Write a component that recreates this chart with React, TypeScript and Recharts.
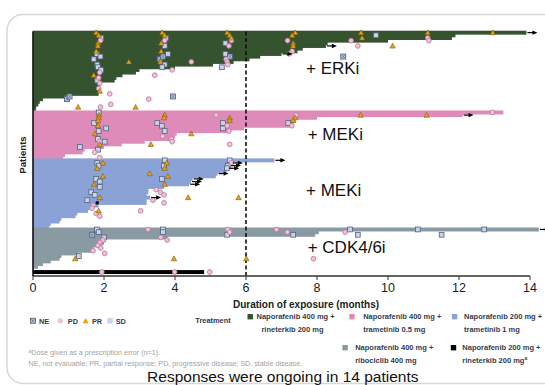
import React from 'react';
import { ComposedChart, Bar, Cell, XAxis, YAxis, Scatter, ReferenceLine } from 'recharts';

const FONT = '"Liberation Sans", Arial, Helvetica, sans-serif';

// ---- treatment groups ----
const groupLabels = [
  ['Naporafenib 400 mg +', 'rineterkib 200 mg'],
  ['Naporafenib 400 mg +', 'trametinib 0.5 mg'],
  ['Naporafenib 200 mg +', 'trametinib 1 mg'],
  ['Naporafenib 400 mg +', 'ribociclib 400 mg'],
  ['Naporafenib 200 mg +', 'rineterkib 200 mg'],
];
const groupColors = ['#35532e', '#df8bb9', '#8aa2d6', '#8a9aa3', '#000000'];
const groupStart = [0, 30, 48, 74, 90];
const TOTAL_ROWS = 92;

// ---- duration of exposure (months), one value per patient, top to bottom ----
const greenDur = [13.9, 11.9, 11.8, 10.0, 8.3, 8.25, 7.6, 7.45, 7.0, 6.4, 6.1, 5.65, 5.07, 4.0, 3.0, 2.9, 2.52, 2.35, 2.3, 1.9, 1.88, 1.88, 1.87, 1.85, 0.89, 0.28, 0.19, 0.15, 0.09, 0.08];
const pinkDur = [13.25, 12.1, 8.0, 7.4, 7.35, 7.3, 5.95, 5.5, 4.05, 4.0, 3.95, 3.15, 2.5, 2.0, 1.45, 1.4, 0.9, 0.85];
const blueDur = [6.8, 5.6, 5.55, 5.5, 5.45, 5.2, 5.15, 4.5, 4.45, 4.4, 3.7, 3.25, 3.25, 3.2, 3.3, 3.2, 3.2, 1.85, 1.6, 1.55, 1.25, 1.2, 0.8, 0.75, 0.5, 0.45];
const grayDur = [14.25, 8.05, 7.95, 3.8, 2.05, 2.0, 1.95, 1.7, 1.65, 1.25, 0.8, 0.75, 0.5, 0.28, 0.14];
const blackDur = [4.82];
const groupDurations = [greenDur, pinkDur, blueDur, grayDur, blackDur];

// ---- ongoing (arrow) [group, row] ----
const ongoingRows = [[0, 0], [0, 5], [0, 8], [1, 1], [2, 0], [2, 1], [2, 2], [2, 3], [2, 5], [2, 7], [2, 8], [2, 9], [2, 14], [3, 0]];

// ---- response assessments [group, row, month] ----
const neMarks = [[0, 25, 0.96], [0, 24, 1.03], [0, 24, 3.94], [0, 9, 8.74], [0, 10, 3.57], [0, 9, 3.66], [0, 9, 5.55], [3, 2, 1.67]];
const prMarks = [
  [0, 0, 1.78], [0, 1, 1.85], [0, 4, 1.83], [0, 5, 1.83], [0, 7, 1.78], [0, 16, 1.71], [0, 22, 1.88], [0, 11, 2.7], [0, 28, 1.27], [0, 28, 2.89],
  [0, 0, 3.64], [0, 1, 3.71], [0, 4, 3.61], [0, 7, 3.61], [0, 11, 3.59],
  [0, 0, 5.47], [0, 1, 5.54], [0, 2, 5.59],
  [0, 0, 7.39], [0, 1, 7.3], [0, 4, 7.33], [0, 5, 7.33], [0, 0, 9.24], [0, 2, 9.27], [0, 5, 10.13], [0, 0, 11.12], [0, 0, 12.95],
  [1, 1, 1.86], [1, 2, 1.85], [1, 3, 1.83], [1, 5, 1.83], [1, 8, 1.74], [1, 12, 1.88], [1, 1, 3.71], [1, 2, 3.69], [1, 8, 4.46], [1, 12, 3.32],
  [1, 2, 5.54], [1, 3, 5.54], [1, 2, 7.38], [1, 3, 7.33], [1, 1, 9.23], [1, 1, 11.09],
  [2, 1, 1.97], [2, 3, 1.81], [2, 6, 1.97], [2, 9, 1.72], [2, 14, 1.88], [2, 19, 1.85], [2, 1, 3.77], [2, 3, 3.71], [2, 5, 3.29], [2, 6, 3.8],
  [2, 9, 3.71], [2, 14, 4.37], [2, 14, 5.79],
  [3, 11, 1.19], [3, 11, 3.97], [3, 11, 6.01],
];
const sdMarks = [
  [0, 2, 1.92], [0, 8, 1.8], [0, 9, 1.9], [0, 10, 1.71], [0, 12, 1.81], [0, 13, 1.83], [0, 14, 1.92], [0, 18, 1.81],
  [0, 2, 3.75], [0, 5, 3.71], [0, 8, 3.8], [0, 12, 3.71], [0, 13, 3.64],
  [0, 4, 5.42], [0, 8, 5.42], [0, 13, 5.32], [0, 1, 9.66],
  [1, 0, 1.85], [1, 4, 1.72], [1, 6, 2.06], [1, 7, 1.85], [1, 10, 1.83], [1, 11, 2.02], [1, 14, 1.83], [1, 13, 1.32], [1, 4, 3.5], [1, 5, 3.63],
  [1, 7, 3.71], [1, 4, 5.35], [1, 6, 5.35], [1, 4, 7.19],
  [2, 1, 1.81], [2, 2, 1.85], [2, 7, 1.78], [2, 8, 1.88], [2, 10, 1.88], [2, 12, 1.64], [2, 13, 1.74], [2, 15, 1.53], [2, 0, 3.71], [2, 2, 3.69],
  [2, 7, 3.63], [2, 0, 5.54], [2, 2, 5.49], [2, 3, 5.46],
  [3, 0, 1.8], [3, 1, 1.85], [3, 3, 2.0], [3, 10, 1.29], [3, 0, 3.66], [3, 1, 3.66], [3, 2, 5.47], [3, 2, 7.33], [3, 0, 8.93], [3, 2, 9.15],
  [3, 0, 10.84], [3, 2, 11.51], [3, 0, 12.71],
];
const pdMarks = [
  [0, 3, 1.9], [0, 15, 1.88], [0, 17, 1.85], [0, 19, 1.88], [0, 21, 1.85], [0, 3, 3.71], [0, 14, 3.92], [0, 11, 4.46], [0, 16, 3.43],
  [0, 3, 5.59], [0, 5, 5.52], [0, 10, 5.44], [0, 11, 5.47], [0, 12, 5.49],
  [0, 3, 7.17], [0, 7, 7.3], [0, 8, 7.22], [0, 3, 8.96], [0, 5, 9.15], [0, 2, 11.12], [0, 3, 11.15],
  [0, 23, 2.16], [0, 27, 2.19], [0, 28, 1.9], [0, 25, 3.26],
  [1, 11, 1.88], [1, 15, 1.74], [1, 17, 1.88], [1, 9, 3.65], [1, 10, 3.9], [1, 11, 3.92], [1, 1, 5.16], [1, 5, 5.47], [1, 7, 5.52], [1, 12, 5.54],
  [1, 1, 7.41], [1, 5, 7.29], [1, 0, 12.94],
  [2, 17, 1.69], [2, 18, 1.66], [2, 20, 1.78], [2, 21, 1.88], [2, 11, 3.47], [2, 12, 3.59], [2, 13, 3.69], [2, 15, 3.38], [2, 16, 3.69], [2, 19, 3.03], [2, 1, 5.59],
  [3, 4, 1.97], [3, 5, 1.88], [3, 6, 1.83], [3, 7, 1.91], [3, 8, 1.69], [3, 9, 2.02], [3, 0, 3.24], [3, 3, 3.6], [3, 4, 3.78], [3, 0, 5.49],
  [3, 1, 5.54], [3, 0, 6.86], [3, 1, 7.16], [3, 1, 8.79], [3, 11, 7.9],
  [4, 0, 1.94], [4, 0, 3.99], [4, 0, 4.98],
];
const dotMarks = [[2, 16, 1.81]];

const xTicks = [0, 2, 4, 6, 8, 10, 12, 14];

// ---- build tables ----
const rows = Array.from({ length: TOTAL_ROWS }, (_, i) => ({ id: i, dur: null as number | null, color: '#ffffff' }));
groupDurations.forEach((durs, g) => durs.forEach((d, r) => {
  rows[groupStart[g] + r] = { id: groupStart[g] + r, dur: d, color: groupColors[g] };
}));
const toPts = (arr: number[][]) => arr.map(([g, r, m]) => ({ x: m, y: groupStart[g] + r + 0.5 }));
const arrowPts = ongoingRows.map(([g, r]) => ({ x: groupDurations[g][r], y: groupStart[g] + r + 0.5 }));

const CH_H = 300;
const TOP = 31.3;
const AX_H = 24;
const ROW_H = (CH_H - TOP - AX_H) / TOTAL_ROWS;

// ---- marker shapes ----
const SD = ({ cx, cy }: any) => (
  <rect x={cx - 2.4} y={cy - 2.4} width={4.8} height={4.8} fill="#c9d4ec" stroke="#56627c" strokeWidth={0.8} />
);
const PD = ({ cx, cy }: any) => (
  <circle cx={cx} cy={cy} r={2.4} fill="#f3bfd9" stroke="#b57899" strokeWidth={0.8} />
);
const PR = ({ cx, cy }: any) => (
  <path d={`M${cx},${cy - 2.7} L${cx + 2.7},${cy + 2.1} L${cx - 2.7},${cy + 2.1} Z`} fill="#e8a21a" stroke="#7d5b0e" strokeWidth={0.6} />
);
const NE = ({ cx, cy }: any) => (
  <g>
    <rect x={cx - 2.5} y={cy - 2.5} width={5} height={5} fill="#b4c4df" stroke="#4e5e7c" strokeWidth={0.8} />
    <path d={`M${cx - 1.6},${cy - 1.6} L${cx + 1.6},${cy + 1.6} M${cx + 1.6},${cy - 1.6} L${cx - 1.6},${cy + 1.6}`} stroke="#4e5e7c" strokeWidth={0.6} />
  </g>
);
const DOT = ({ cx, cy }: any) => <circle cx={cx} cy={cy} r={1.8} fill="#000" />;
const ARROW = ({ cx, cy }: any) => (
  <g>
    <line x1={cx + 1} y1={cy} x2={cx + 8} y2={cy} stroke="#000" strokeWidth={1.2} />
    <path d={`M${cx + 6},${cy - 2.2} L${cx + 11},${cy} L${cx + 6},${cy + 2.2} Z`} fill="#000" />
  </g>
);
// bar drawn full row height (rows touch each other like the swimmer plot)
const BarShape = (p: any) => {
  const w = Number(p.width);
  if (!(w > 0)) return <g />;
  return (
    <rect
      x={Number(p.x)}
      y={Number(p.y) - 0.6}
      width={w}
      height={ROW_H + 1.3}
      fill={p.payload && p.payload.color ? p.payload.color : p.fill}
      stroke="none"
    />
  );
};

const legendText = '#333c4e';

export default function App() {
  return (
    <div style={{ position: 'fixed', left: 0, top: 0, width: 545, height: 385, overflow: 'hidden', background: '#fff', fontFamily: FONT }}>
      <div style={{ position: 'absolute', left: 0, top: 0 }}>
        <ComposedChart
          width={545}
          height={CH_H}
          data={rows}
          layout="vertical"
          barCategoryGap={0}
          barGap={0}
          margin={{ top: TOP, right: 4.35, bottom: 0, left: 33 }}
        >
          <XAxis
            type="number"
            domain={[0, 14.3]}
            ticks={xTicks}
            axisLine={false}
            tickLine={{ stroke: '#333', strokeWidth: 1 }}
            tickSize={4}
            tickMargin={3}
            height={AX_H}
            tick={{ fontSize: 12.5, fill: '#222', fontFamily: FONT }}
            interval={0}
          />
          <YAxis yAxisId="cat" type="category" dataKey="id" hide />
          <YAxis yAxisId="num" type="number" dataKey="y" domain={[0, TOTAL_ROWS]} hide />
          <Bar yAxisId="cat" dataKey="dur" barSize={2} shape={BarShape} activeBar={false} isAnimationActive={false}>
            {rows.map((r) => (
              <Cell key={r.id} fill={r.color} />
            ))}
          </Bar>
          <ReferenceLine yAxisId="num" x={6} stroke="#111" strokeWidth={1.6} strokeDasharray="4 2.5" />
          <ReferenceLine yAxisId="num" x={0} stroke="#111" strokeWidth={1.6} />
          <ReferenceLine yAxisId="num" segment={[{ x: 0, y: TOTAL_ROWS }, { x: 14, y: TOTAL_ROWS }]} stroke="#333" strokeWidth={1.3} />
          <Scatter yAxisId="num" dataKey="x" data={toPts(sdMarks)} shape={SD} isAnimationActive={false} />
          <Scatter yAxisId="num" dataKey="x" data={toPts(neMarks)} shape={NE} isAnimationActive={false} />
          <Scatter yAxisId="num" dataKey="x" data={toPts(pdMarks)} shape={PD} isAnimationActive={false} />
          <Scatter yAxisId="num" dataKey="x" data={toPts(prMarks)} shape={PR} isAnimationActive={false} />
          <Scatter yAxisId="num" dataKey="x" data={toPts(dotMarks)} shape={DOT} isAnimationActive={false} />
          <Scatter yAxisId="num" dataKey="x" data={arrowPts} shape={ARROW} isAnimationActive={false} />
        </ComposedChart>
      </div>
      <svg width={545} height={385} style={{ position: 'absolute', left: 0, top: 0, pointerEvents: 'none' }} fontFamily={FONT}>
        <rect x={7} y={14.5} width={620} height={369} rx={16} fill="none" stroke="#d8d8d8" strokeWidth={1.5} />
        <text transform="translate(26,155) rotate(-90)" textAnchor="middle" fontSize={9.6} fontWeight="bold" fill="#222">Patients</text>
        <text x={306} y={308} textAnchor="middle" fontSize={10} fontWeight="bold" fill="#222">Duration of exposure (months)</text>

        <text x={306} y={74} fontSize={17} fill="#111">+ ERKi</text>
        <text x={307.7} y={139.5} fontSize={17} fill="#111">+ MEKi</text>
        <text x={306} y={195.5} fontSize={17} fill="#111">+ MEKi</text>
        <text x={307.7} y={252.5} fontSize={17} fill="#111">+ CDK4/6i</text>

        {/* response legend */}
        <NE cx={33} cy={320.8} />
        <text x={39} y={323.5} fontSize={7.3} fontWeight="bold" fill={legendText}>NE</text>
        <circle cx={60.3} cy={320.8} r={2.6} fill="#f3bfd9" />
        <text x={67.8} y={323.5} fontSize={7.3} fontWeight="bold" fill={legendText}>PD</text>
        <path d="M85.6,318 L88.6,323.3 L82.6,323.3 Z" fill="#f0a500" />
        <text x={92} y={323.5} fontSize={7.3} fontWeight="bold" fill={legendText}>PR</text>
        <rect x={107.3} y={318.2} width={5.4} height={5.4} fill="#c9d4ec" />
        <text x={115.7} y={323.5} fontSize={7.3} fontWeight="bold" fill={legendText}>SD</text>

        {/* treatment legend */}
        <text x={195.3} y={322.5} fontSize={7.4} fontWeight="bold" fill={legendText}>Treatment</text>
        {[
          { g: 0, sx: 247.5, sy: 314, tx: 256.5, tx2: 261.4, ty: 319 },
          { g: 1, sx: 349.3, sy: 314, tx: 363.2, tx2: 363.2, ty: 319 },
          { g: 2, sx: 451.9, sy: 314, tx: 464, tx2: 464, ty: 319 },
          { g: 3, sx: 342.4, sy: 345, tx: 355.2, tx2: 355.2, ty: 349.7 },
          { g: 4, sx: 450.8, sy: 345, tx: 462.3, tx2: 462.3, ty: 349.7 },
        ].map((l) => (
          <g key={l.g}>
            <rect x={l.sx} y={l.sy} width={5.4} height={5.4} fill={groupColors[l.g]} />
            <text x={l.tx} y={l.ty} fontSize={7.5} fontWeight="bold" fill={legendText}>{groupLabels[l.g][0]}</text>
            <text x={l.tx2} y={l.ty + 13} fontSize={7.5} fontWeight="bold" fill={legendText}>
              {groupLabels[l.g][1]}
              {l.g === 4 ? <tspan fontSize={5} dy={-2.5}>a</tspan> : null}
            </text>
          </g>
        ))}

        <text x={28.5} y={355} fontSize={7.2} fill="#a3a3a3">
          <tspan fontSize={5} dy={-2}>a</tspan>
          <tspan dy={2}>Dose given as a prescription error (n=1).</tspan>
        </text>
        <text x={28.5} y={365.8} fontSize={7.2} fill="#a3a3a3">NE, not evaluable; PR, partial response; PD, progressive disease; SD, stable disease.</text>

        <text x={282.8} y={381.5} textAnchor="middle" fontSize={15.5} fill="#111">Responses were ongoing in 14 patients</text>
      </svg>
    </div>
  );
}
